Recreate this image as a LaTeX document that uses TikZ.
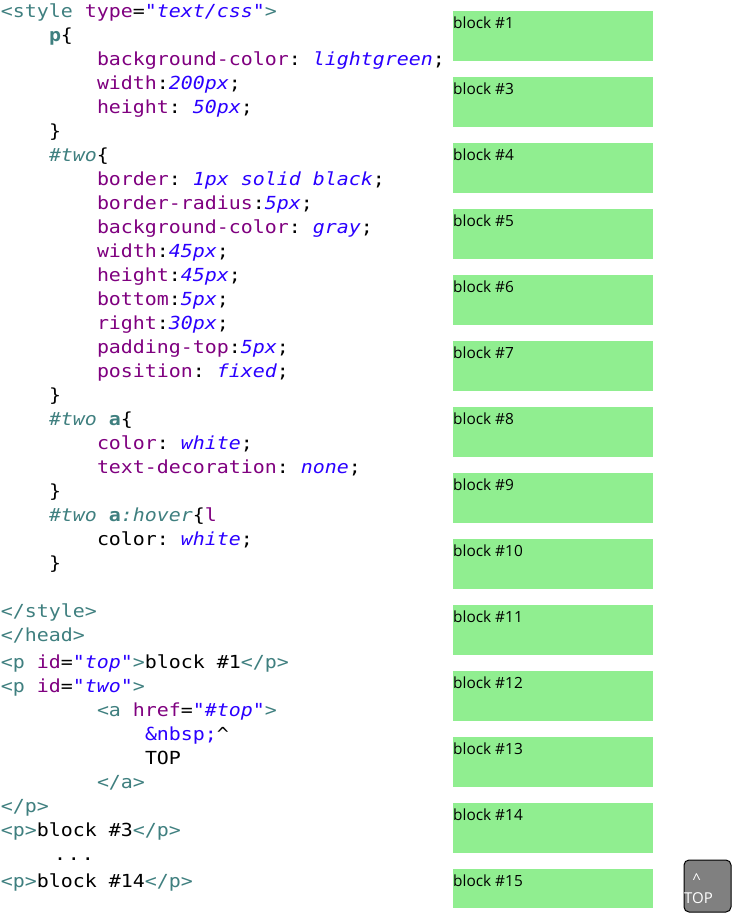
\documentclass[tikz,border=0pt]{standalone}
\usepackage{fontspec}
\setmonofont[FakeStretch=1.107]{DejaVu Sans Mono}
\newfontfamily\websans{Open Sans}
\definecolor{tagc}{HTML}{3F7F7F}
\definecolor{attrc}{HTML}{7F007F}
\definecolor{valc}{HTML}{2A00FF}
\definecolor{lgreen}{HTML}{90EE90}
\definecolor{btngray}{HTML}{808080}
\newcommand\ctag[1]{\textcolor{tagc}{#1}}
\newcommand\cattr[1]{\textcolor{attrc}{#1}}
\newcommand\cval[1]{\textcolor{valc}{\itshape #1}}
\newcommand\csel[1]{\textcolor{tagc}{\bfseries #1}}
\newcommand\cidsel[1]{\textcolor{tagc}{\itshape #1}}
\tikzset{
  codeline/.style={anchor=base west, inner sep=0pt, outer sep=0pt, font=\ttfamily\fontsize{18}{24}\selectfont, text=black},
  greenbox/.style={anchor=north west, fill=lgreen, draw=none, minimum width=200pt, minimum height=50pt, inner sep=0pt},
  blocklabel/.style={anchor=base west, inner sep=0pt, font=\websans\fontsize{15.4}{18}\selectfont, text=black},
  topbtn/.style={anchor=north west, fill=btngray, draw=black, line width=1pt, rounded corners=5pt, minimum width=47pt, minimum height=52pt, inner sep=0pt},
  btnlabel/.style={anchor=base west, inner sep=0pt, font=\websans\fontsize{15}{18}\selectfont, text=white}
}
\begin{document}
\begin{tikzpicture}[x=1pt,y=-1pt]
\useasboundingbox (0,0) rectangle (737,914);
% code column
\node[codeline] (l0) at (1,17) {\ctag{<style} \cattr{type}=\cval{"text/css"}\ctag{>}};
\node[codeline] (l1) at (49,41) {\csel{p}\{};
\node[codeline] (l2) at (97,65) {\cattr{background-color}: \cval{lightgreen};};
\node[codeline] (l3) at (97,89) {\cattr{width}:\cval{200px};};
\node[codeline] (l4) at (97,113) {\cattr{height}: \cval{50px};};
\node[codeline] (l5) at (49,137) {\}};
\node[codeline] (l6) at (49,161) {\cidsel{\#two}\{};
\node[codeline] (l7) at (97,185) {\cattr{border}: \cval{1px solid black};};
\node[codeline] (l8) at (97,209) {\cattr{border-radius}:\cval{5px};};
\node[codeline] (l9) at (97,233) {\cattr{background-color}: \cval{gray};};
\node[codeline] (l10) at (97,257) {\cattr{width}:\cval{45px};};
\node[codeline] (l11) at (97,281) {\cattr{height}:\cval{45px};};
\node[codeline] (l12) at (97,305) {\cattr{bottom}:\cval{5px};};
\node[codeline] (l13) at (97,329) {\cattr{right}:\cval{30px};};
\node[codeline] (l14) at (97,353) {\cattr{padding-top}:\cval{5px};};
\node[codeline] (l15) at (97,377) {\cattr{position}: \cval{fixed};};
\node[codeline] (l16) at (49,401) {\}};
\node[codeline] (l17) at (49,425) {\cidsel{\#two} \csel{a}\{};
\node[codeline] (l18) at (97,449) {\cattr{color}: \cval{white};};
\node[codeline] (l19) at (97,473) {\cattr{text-decoration}: \cval{none};};
\node[codeline] (l20) at (49,497) {\}};
\node[codeline] (l21) at (49,521) {\cidsel{\#two} \csel{a}\cidsel{:hover}\{\cattr{l}};
\node[codeline] (l22) at (97,545) {color: \cval{white};};
\node[codeline] (l23) at (49,569) {\}};
\node[codeline] (l25) at (1,617) {\ctag{</style>}};
\node[codeline] (l26) at (1,641) {\ctag{</head>}};
\node[codeline] (l27) at (1,668) {\ctag{<p} \cattr{id}=\cval{"top"}\ctag{>}block \#1\ctag{</p>}};
\node[codeline] (l28) at (1,692) {\ctag{<p} \cattr{id}=\cval{"two"}\ctag{>}};
\node[codeline] (l29) at (97,716) {\ctag{<a} \cattr{href}=\cval{"\#top"}\ctag{>}};
\node[codeline] (l30) at (145,740) {\textcolor{valc}{\&nbsp;}\textasciicircum};
\node[codeline] (l31) at (145,764) {TOP};
\node[codeline] (l32) at (97,788) {\ctag{</a>}};
\node[codeline] (l33) at (1,812) {\ctag{</p>}};
\node[codeline] (l34) at (1,836) {\ctag{<p>}block \#3\ctag{</p>}};
\node[codeline] (l35) at (54,860) {.\kern2pt.\kern2pt.};
\node[codeline] (l36) at (1,887) {\ctag{<p>}block \#14\ctag{</p>}};
% green blocks
\foreach \n [count=\i from 0] in {1,3,4,5,6,7,8,9,10,11,12,13,14} {
  \node[greenbox] (g\n) at (453,11+66*\i) {};
  \node[blocklabel] (t\n) at (453,28+66*\i) {block \#\n};
}
\node[greenbox, minimum height=39pt] (g15) at (453,869) {};
\node[blocklabel] (t15) at (453,886) {block \#15};
% fixed TOP button
\node[topbtn] (btn) at (683.5,859.5) {};
\node[btnlabel] (caret) at (692.5,884) {\textasciicircum};
\node[btnlabel] (toptxt) at (684,903) {TOP};
\end{tikzpicture}
\end{document}
